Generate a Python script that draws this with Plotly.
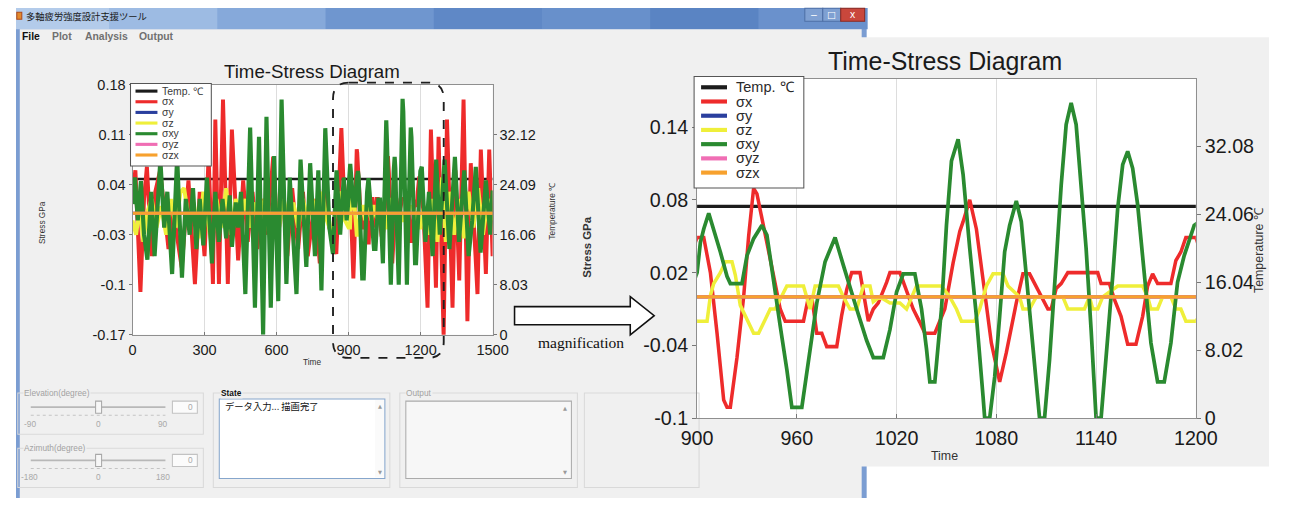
import plotly.graph_objects as go

W, H = 1291, 509

# ---------------- data ----------------
time_full = [0, 1500]
temperature_c = [25.0, 25.0]
sigma_y = [0.0, 0.0]
sigma_yz = [0.0, 0.0]
sigma_zx = [0.0, 0.0]

# sigma_x (time, GPa)
sigma_x_points = [
    (0, 0.03), (12, 0.06), (33, -0.11), (48, 0.02), (60, 0.065), (80, -0.06), (95, 0.03), (115, 0.06),
    (150, -0.05), (165, 0.0), (180, -0.02), (205, -0.076), (233, 0.046), (260, -0.099), (280, 0.03),
    (300, -0.06), (317, 0.079), (335, -0.099), (345, 0.131), (360, -0.099), (377, 0.159), (397, -0.099),
    (414, 0.117), (440, -0.066), (461, 0.046), (480, -0.04), (500, 0.03), (520, -0.05), (540, 0.02),
    (560, -0.03), (586, 0.079), (605, -0.04), (625, 0.03), (645, -0.06), (665, 0.035), (690, -0.05),
    (710, 0.03), (730, -0.06), (760, 0.02), (780, -0.07), (800, 0.05), (820, -0.02), (849, -0.057),
    (870, 0.119), (885, -0.01),
    (900, 0.049), (904, 0.049), (908, 0.02), (912, -0.03), (916, -0.085), (918, -0.091), (920, -0.091),
    (924, -0.05), (928, 0.0), (931, 0.05), (934, 0.0895), (936, 0.085), (940, 0.059), (946, 0.0175),
    (950, -0.01), (953, -0.02), (964, -0.02), (967, 0.0), (969, 0.0), (972, -0.03), (975, -0.03),
    (978, -0.041), (984, -0.041), (987, -0.015), (990, 0.006), (993, 0.02), (998, 0.02), (1003, -0.02),
    (1006, -0.01), (1009, -0.005), (1014, 0.012), (1016, 0.02), (1022, 0.02), (1026, 0.005), (1030, -0.01),
    (1034, -0.021), (1037, -0.03), (1043, -0.03), (1046, -0.02), (1049, -0.01), (1054, 0.028), (1058, 0.054),
    (1060, 0.062), (1064, 0.080), (1068, 0.056), (1072, 0.012), (1077, -0.038), (1082, -0.07), (1086, -0.046),
    (1092, -0.005), (1096, 0.019), (1100, 0.019), (1104, 0.009), (1107, 0.001), (1111, -0.01), (1113, -0.01),
    (1116, 0.007), (1119, 0.011), (1123, 0.02), (1141, 0.02), (1143, 0.011), (1148, 0.011), (1151, -0.002),
    (1155, -0.016), (1159, -0.039), (1164, -0.039), (1168, -0.016), (1171, 0.009), (1174, 0.019),
    (1177, 0.011), (1185, 0.011), (1188, 0.03), (1191, 0.037), (1194, 0.049), (1200, 0.049),
    (1212, 0.0), (1229, -0.132), (1243, 0.117), (1264, -0.104), (1275, 0.107), (1296, -0.172), (1310, 0.131),
    (1333, -0.132), (1345, 0.06), (1361, -0.094), (1379, 0.159), (1395, -0.151), (1409, 0.07), (1437, -0.113),
    (1451, 0.089), (1472, -0.085), (1486, 0.089), (1500, -0.06),
]

# sigma_z (time, GPa)
sigma_z_points = [
    (0, -0.01), (15, -0.03), (30, 0.01), (45, -0.04), (60, 0.0), (80, 0.02), (100, -0.02), (120, 0.01),
    (140, -0.03), (160, 0.02), (180, -0.02), (200, 0.03), (215, 0.035), (235, -0.01), (255, 0.015),
    (275, -0.035), (295, 0.03), (310, 0.0), (330, -0.045), (350, 0.02), (370, -0.02), (390, 0.035),
    (410, -0.03), (430, 0.02), (450, -0.01), (470, 0.02), (490, -0.02), (510, 0.015), (530, -0.01),
    (550, 0.02), (570, -0.03), (590, 0.025), (610, -0.02), (630, 0.02), (650, -0.015), (670, 0.015),
    (690, -0.02), (710, 0.02), (730, -0.01), (750, 0.02), (770, -0.02), (790, 0.03), (810, -0.01),
    (830, -0.03), (850, 0.015), (870, 0.03), (885, -0.01),
    (900, -0.02), (906, -0.02), (908, 0.001), (910, 0.011), (914, 0.02), (917, 0.029), (921, 0.029),
    (923, 0.018), (926, -0.007), (931, -0.021), (934, -0.03), (937, -0.03), (940, -0.021), (944, -0.01),
    (947, -0.01), (951, 0.001), (954, 0.009), (964, 0.009), (966, 0.0), (968, -0.01), (971, 0.009),
    (985, 0.009), (988, 0.0), (992, -0.01), (996, -0.01), (1000, 0.009), (1004, 0.009), (1006, -0.004),
    (1010, 0.0), (1016, -0.005), (1022, -0.005), (1026, -0.01), (1032, 0.009), (1047, 0.009), (1052, 0.0),
    (1056, -0.01), (1059, -0.02), (1067, -0.02), (1070, -0.01), (1074, 0.009), (1078, 0.019), (1084, 0.019),
    (1087, 0.009), (1094, 0.0), (1096, -0.01), (1100, -0.01), (1104, 0.0), (1120, 0.0), (1123, -0.01),
    (1133, -0.01), (1136, 0.0), (1138, -0.01), (1141, -0.01), (1144, 0.0), (1153, 0.009), (1168, 0.009),
    (1171, 0.0), (1173, -0.01), (1177, -0.01), (1180, 0.0), (1185, 0.0), (1188, -0.01), (1191, -0.01),
    (1194, -0.02), (1200, -0.02),
    (1215, 0.01), (1230, -0.03), (1250, 0.02), (1270, -0.04), (1290, 0.05), (1305, -0.04), (1320, 0.03),
    (1340, -0.03), (1360, 0.02), (1380, -0.035), (1400, 0.03), (1420, -0.02), (1440, 0.035), (1460, -0.03),
    (1480, 0.02), (1500, -0.01),
]

# sigma_xy (time, GPa)
sigma_xy_points = [
    (0, 0.013), (10, 0.05), (22, -0.01), (35, 0.045), (48, -0.03), (62, -0.065), (78, 0.03), (92, -0.06),
    (116, 0.075), (132, -0.02), (145, 0.03), (165, -0.085), (186, 0.079), (206, -0.09), (222, 0.02),
    (238, -0.03), (252, 0.035), (266, -0.05), (280, 0.02), (295, -0.045), (310, 0.05), (331, -0.07),
    (345, 0.03), (360, -0.04), (375, 0.02), (390, -0.035), (405, 0.025), (414, -0.047), (430, 0.015),
    (440, -0.02), (452, 0.03),
    (470, -0.113), (490, 0.12), (510, -0.132), (527, 0.107), (544, -0.17), (558, 0.135), (576, -0.132),
    (590, 0.08), (607, -0.123), (621, 0.159), (641, -0.099), (655, 0.05), (683, -0.113), (700, 0.075),
    (724, -0.075), (740, 0.07), (760, -0.06), (774, 0.06), (787, -0.108), (803, 0.119), (820, -0.02),
    (835, -0.057), (850, 0.06), (865, -0.03), (880, 0.05), (892, -0.01),
    (900, 0.02), (902, 0.045), (904, 0.056), (907, 0.069), (910, 0.056), (914, 0.037), (918, 0.017),
    (920, 0.011), (927, 0.011), (930, 0.034), (934, 0.048), (939, 0.059), (942, 0.051), (946, 0.012),
    (950, -0.024), (954, -0.06), (957, -0.091), (963, -0.091), (967, -0.052), (972, -0.005), (977, 0.029),
    (983, 0.049), (988, 0.026), (992, 0.009), (996, -0.01), (1002, -0.036), (1006, -0.05), (1012, -0.05),
    (1016, -0.027), (1020, 0.004), (1024, 0.019), (1031, 0.019), (1035, -0.01), (1038, -0.043),
    (1040, -0.07), (1043, -0.07), (1047, -0.01), (1050, 0.059), (1053, 0.112), (1057, 0.13), (1060, 0.101),
    (1064, 0.04), (1068, -0.016), (1072, -0.082), (1073, -0.1), (1076, -0.1), (1079, -0.066), (1082, -0.016),
    (1085, 0.037), (1088, 0.059), (1092, 0.079), (1095, 0.062), (1098, 0.017), (1102, -0.045), (1106, -0.1),
    (1109, -0.1), (1112, -0.052), (1116, 0.029), (1119, 0.092), (1122, 0.142), (1125, 0.16), (1128, 0.142),
    (1131, 0.092), (1134, 0.04), (1137, -0.027), (1140, -0.1), (1143, -0.1), (1146, -0.052), (1150, 0.017),
    (1153, 0.073), (1156, 0.109), (1159, 0.12), (1162, 0.106), (1165, 0.076), (1169, 0.017), (1173, -0.038),
    (1177, -0.07), (1181, -0.07), (1185, -0.038), (1189, 0.012), (1193, 0.034), (1199, 0.059),
    (1205, 0.065), (1220, -0.04), (1235, 0.03), (1250, -0.06), (1265, 0.075), (1280, -0.03), (1300, 0.075),
    (1320, -0.05), (1343, 0.079), (1360, -0.04), (1382, 0.06), (1400, -0.06), (1415, -0.01), (1430, 0.065),
    (1450, -0.055), (1472, 0.046), (1490, -0.03), (1500, 0.032),
]

series_names = ["Temp. ℃", "σx", "σy", "σz", "σxy", "σyz", "σzx"]
series_colors = ["#1c1c1c", "#ee2b2b", "#2a3f9e", "#efef3a", "#2a8a30", "#f06eb4", "#f7a12e"]

left_time_ticks = [0, 300, 600, 900, 1200, 1500]
left_stress_ticks = [-0.17, -0.1, -0.03, 0.04, 0.11, 0.18]
left_stress_labels = ["-0.17", "-0.1", "-0.03", "0.04", "0.11", "0.18"]
left_temp_ticks = [0, 8.03, 16.06, 24.09, 32.12]
left_temp_labels = ["0", "8.03", "16.06", "24.09", "32.12"]

right_time_ticks = [900, 960, 1020, 1080, 1140, 1200]
right_stress_ticks = [-0.1, -0.04, 0.02, 0.08, 0.14]
right_stress_labels = ["-0.1", "-0.04", "0.02", "0.08", "0.14"]
right_temp_ticks = [0, 8.02, 16.04, 24.06, 32.08]
right_temp_labels = ["0", "8.02", "16.04", "24.06", "32.08"]

# ---------------- helpers: target picture px -> paper fraction ----------------
# The photographed page came back inset and slightly shrunk (about x' = 15 + 0.973x, y' = 9 + 0.958y),
# so layout positions are pre-compensated for that mapping.
OX, SX = 15.2, 0.973
OY, SY = 8.8, 0.958
FS = 1 / 0.965   # size compensation for fonts / strokes

def _cx(t):
    return min(max((t - OX) / SX, 0.0), W)

def _cy(t):
    return min(max((t - OY) / SY, 0.0), H)

def X(t):
    return _cx(t) / W

def Y(t):
    return 1 - _cy(t) / H

def F(size):
    return round(size * FS, 1)

SANS = "Liberation Sans, Arial, sans-serif"
CJK = "Noto Sans CJK JP, sans-serif"

shapes = []
annotations = []

def rect(x0, y0, x1, y1, fill="rgba(0,0,0,0)", line="rgba(0,0,0,0)", lw=0, layer="below", dash=None):
    d = dict(type="rect", xref="paper", yref="paper", x0=X(x0), x1=X(x1), y0=Y(y1), y1=Y(y0),
             fillcolor=fill, line=dict(color=line, width=lw * FS if lw else 0), layer=layer)
    if dash:
        d["line"]["dash"] = dash
    shapes.append(d)

def hline(x0, x1, y, color, lw, layer="below", dash=None):
    d = dict(type="line", xref="paper", yref="paper", x0=X(x0), x1=X(x1), y0=Y(y), y1=Y(y),
             line=dict(color=color, width=lw * FS), layer=layer)
    if dash:
        d["line"]["dash"] = dash
    shapes.append(d)

def text(px, py, s, size, color="#1a1a1a", family=SANS, xanchor="center", angle=0, bg=None):
    a = dict(xref="paper", yref="paper", x=X(px), y=Y(py), text=s, showarrow=False,
             font=dict(size=F(size), color=color, family=family), xanchor=xanchor, yanchor="middle",
             textangle=angle, borderpad=0)
    if bg:
        a["bgcolor"] = bg
    annotations.append(a)

def path_px(points, close=True):
    s = ""
    for cmd, pts in points:
        s += cmd + " " + " ".join(f"{X(px):.5f},{Y(py):.5f}" for px, py in pts) + " "
    return s + ("Z" if close else "")

# ---------------- background: application window ----------------
rect(0, 8, 868, 505, fill="#7b9dd2")
title_cols = ["#b3cbea", "#9dbbe3", "#86a9da", "#6f96cf", "#5f88c6", "#6890cb", "#5a84c3", "#6a91cc"]
seg = 868 / len(title_cols)
for i, c in enumerate(title_cols):
    rect(i * seg, 8, (i + 1) * seg + 1, 30, fill=c)
rect(19, 30, 863, 498, fill="#f0f0f0")
rect(806, 9, 824, 22, fill="#7fa0d2", line="#4e6fa6", lw=1)
rect(824, 9, 842, 22, fill="#7fa0d2", line="#4e6fa6", lw=1)
rect(842, 9, 866, 22, fill="#c9473c", line="#8a2a22", lw=1)
text(815, 15, "–", 10, "#ffffff")
text(833, 15, "□", 9, "#ffffff", family="DejaVu Sans")
text(854, 15, "x", 10, "#ffffff")
rect(16, 13, 21, 20, fill="#e2892c", line="#b04a1a", lw=1)
text(24, 17, "多軸疲労強度設計支援ツール", 9, "#1a1a1a", family=CJK, xanchor="left")
text(20, 37, "<b>File</b>", 10, "#111111", xanchor="left")
text(50, 37, "<b>Plot</b>", 10, "#707070", xanchor="left")
text(83, 37, "<b>Analysis</b>", 10, "#707070", xanchor="left")
text(138, 37, "<b>Output</b>", 10, "#707070", xanchor="left")

# right magnified panel
rect(652, 38, 1291, 465, fill="#f0f0f0")

# plot areas (white)
rect(132, 85, 493, 334, fill="#ffffff")
rect(698, 79, 1198, 417, fill="#ffffff")

# bottom controls
GB = "#d9d9d9"
rect(17, 392, 203, 433, line=GB, lw=1)
rect(17, 447, 203, 486, line=GB, lw=1)
rect(213, 392, 390, 486, line=GB, lw=1)
rect(400, 392, 578, 486, line=GB, lw=1)
rect(585, 392, 700, 486, line=GB, lw=1)
text(22, 392, "Elevation(degree)", 8, "#a2a2a2", xanchor="left", bg="#f0f0f0")
text(22, 447, "Azimuth(degree)", 8, "#a2a2a2", xanchor="left", bg="#f0f0f0")
text(220, 392, "<b>State</b>", 8, "#111111", xanchor="left", bg="#f0f0f0")
text(405, 392, "Output", 8, "#a2a2a2", xanchor="left", bg="#f0f0f0")
for yy, labels in ((406, ("-90", "0", "90")), (459, ("-180", "0", "180"))):
    hline(30, 165, yy, "#b8b8b8", 1.5)
    hline(30, 165, yy + 8, "#c4c4c4", 1, dash="dot")
    rect(95, yy - 6, 101, yy + 6, fill="#f7f7f7", line="#a8a8a8", lw=1)
    rect(172, yy - 6, 197, yy + 6, fill="#fbfbfb", line="#c2c2c2", lw=1)
    text(190, yy, "0", 8, "#a8a8a8")
    text(29, yy + 17, labels[0], 8, "#a8a8a8")
    text(98, yy + 17, labels[1], 8, "#a8a8a8")
    text(163, yy + 17, labels[2], 8, "#a8a8a8")
rect(219, 398, 385, 477, fill="#ffffff", line="#86a6cc", lw=1)
rect(375, 399, 384, 476, fill="#fafafa")
text(380, 405, "▲", 5, "#9a9a9a", family="DejaVu Sans")
text(380, 471, "▼", 5, "#9a9a9a", family="DejaVu Sans")
text(224, 405, "データ入力... 描画完了", 9, "#111111", family=CJK, xanchor="left")
rect(406, 400, 572, 477, fill="#f7f7f7", line="#ababab", lw=1)
text(566, 407, "▲", 5, "#9a9a9a", family="DejaVu Sans")
text(566, 471, "▼", 5, "#9a9a9a", family="DejaVu Sans")

# ---------------- traces ----------------
fig = go.Figure()

def xy(points):
    return [p[0] for p in points], [p[1] for p in points]

t_sx, v_sx = xy(sigma_x_points)
t_sz, v_sz = xy(sigma_z_points)
t_sxy, v_sxy = xy(sigma_xy_points)

def add_chart(xa, y_temp, y_stress, widths):
    fig.add_trace(go.Scatter(x=time_full, y=temperature_c, xaxis=xa, yaxis=y_temp, mode="lines",
                             line=dict(color=series_colors[0], width=widths[0] * FS), name=series_names[0],
                             showlegend=False, hoverinfo="skip"))
    order = [(t_sx, v_sx, 1), (time_full, sigma_y, 2), (t_sz, v_sz, 3), (t_sxy, v_sxy, 4),
             (time_full, sigma_yz, 5), (time_full, sigma_zx, 6)]
    for tx, vy, k in order:
        fig.add_trace(go.Scatter(x=tx, y=vy, xaxis=xa, yaxis=y_stress, mode="lines",
                                 line=dict(color=series_colors[k], width=widths[k] * FS), name=series_names[k],
                                 showlegend=False, hoverinfo="skip"))

add_chart("x", "y", "y2", [2.6, 3.8, 3, 3.8, 4.0, 3, 3])
add_chart("x2", "y3", "y4", [3.2, 3.4, 3, 3.4, 3.6, 3, 3.2])

# ---------------- boxed legends like the reference ----------------
def legend(box, line_x, text_x, y0, dy, lw, size, tcolor):
    rect(*box, fill="#ffffff", line="#555555", lw=1, layer="above")
    for i, (n, c) in enumerate(zip(series_names, series_colors)):
        yy = y0 + i * dy
        hline(line_x[0], line_x[1], yy, c, lw, layer="above")
        text(text_x, yy, n, size, tcolor, xanchor="left")

legend((130, 84, 211, 166), (135, 157), 161, 91.5, 10.6, 3, 10, "#3a3a3a")
legend((695, 77, 805, 188), (702, 728), 736, 87.7, 14.15, 4, 14, "#2a2a2a")

# dashed selection box on the overview chart
x0, x1, y0, y1, r = 333, 444, 83, 357, 16
shapes.append(dict(type="path", xref="paper", yref="paper", layer="above",
                   path=path_px([("M", [(x0 + r, y0)]), ("L", [(x1 - r, y0)]), ("Q", [(x1, y0), (x1, y0 + r)]),
                                 ("L", [(x1, y1 - r)]), ("Q", [(x1, y1), (x1 - r, y1)]), ("L", [(x0 + r, y1)]),
                                 ("Q", [(x0, y1), (x0, y1 - r)]), ("L", [(x0, y0 + r)]),
                                 ("Q", [(x0, y0), (x0 + r, y0)])]),
                   line=dict(color="#1e1e1e", width=1.8 * FS, dash="dash")))

# magnification arrow
shapes.append(dict(type="path", xref="paper", yref="paper", layer="above",
                   path=path_px([("M", [(515, 306)]), ("L", [(631, 306)]), ("L", [(631, 296)]),
                                 ("L", [(655, 315)]), ("L", [(631, 334)]), ("L", [(631, 324)]),
                                 ("L", [(515, 324)])]),
                   fillcolor="#ffffff", line=dict(color="#111111", width=1.5 * FS)))
text(582, 342, "magnification", 15, "#111111", family="Liberation Serif, Times New Roman, serif")

# titles & axis labels
text(312, 72, "Time-Stress Diagram", 18, "#1a1a1a")
text(947, 62, "Time-Stress Diagram", 24, "#1a1a1a")
text(42, 222, "Stress GPa", 8, "#333333", angle=-90)
text(553, 210, "Temperature ℃", 8, "#333333", angle=-90)
text(312, 361, "Time", 8, "#333333")
text(588, 247, "<b>Stress GPa</b>", 11, "#333333", angle=-90)
text(1262, 250, "Temperature ℃", 12, "#333333", angle=-90)
text(946, 455, "Time", 12, "#333333")

# ---------------- axes ----------------
AX = dict(showline=True, linecolor="#8f8f8f", linewidth=1, mirror=True, zeroline=False)
tf_l = dict(size=F(14), color="#1a1a1a", family=SANS)
tf_r = dict(size=F(19), color="#1a1a1a", family=SANS)

fig.update_layout(
    width=W, height=H, autosize=False,
    margin=dict(l=0, r=0, t=0, b=0, pad=0),
    paper_bgcolor="#ffffff", plot_bgcolor="#ffffff",
    showlegend=False,
    shapes=shapes, annotations=annotations,
    xaxis=dict(domain=[X(132), X(493)], range=[0, 1500], anchor="y", tickmode="array",
               tickvals=left_time_ticks, ticktext=[str(v) for v in left_time_ticks],
               ticks="inside", ticklen=3, tickcolor="#777777", showgrid=True, gridcolor="#dddddd",
               tickfont=tf_l, ticklabelstandoff=2, **AX),
    yaxis=dict(domain=[Y(334), Y(85)], range=[0, 40.15], anchor="x", side="right", tickmode="array",
               tickvals=left_temp_ticks, ticktext=left_temp_labels, ticks="outside", ticklen=3,
               tickcolor="#777777", showgrid=False, tickfont=tf_l, **AX),
    yaxis2=dict(overlaying="y", anchor="x", side="left", range=[-0.17, 0.18], tickmode="array",
                tickvals=left_stress_ticks, ticktext=left_stress_labels, ticks="outside", ticklen=3,
                tickcolor="#777777", showgrid=False, tickfont=tf_l, **AX),
    xaxis2=dict(domain=[X(698), X(1198)], range=[900, 1200], anchor="y3", tickmode="array",
                tickvals=right_time_ticks, ticktext=[str(v) for v in right_time_ticks],
                ticks="inside", ticklen=4, tickcolor="#777777", showgrid=True, gridcolor="#dddddd",
                tickfont=tf_r, ticklabelstandoff=2, **AX),
    yaxis3=dict(domain=[Y(417), Y(79)], range=[0, 40.1], anchor="x2", side="right", tickmode="array",
                tickvals=right_temp_ticks, ticktext=right_temp_labels, ticks="outside", ticklen=4,
                tickcolor="#777777", showgrid=False, tickfont=tf_r, **AX),
    yaxis4=dict(overlaying="y3", anchor="x2", side="left", range=[-0.1, 0.18], tickmode="array",
                tickvals=right_stress_ticks, ticktext=right_stress_labels, ticks="outside", ticklen=4,
                tickcolor="#777777", showgrid=False, tickfont=tf_r, **AX),
)

fig.write_html(
    "out.html",
    config={"displayModeBar": False},
    post_script="document.body.style.margin='0';document.body.style.padding='0';"
                "document.body.style.overflow='hidden';",
)
